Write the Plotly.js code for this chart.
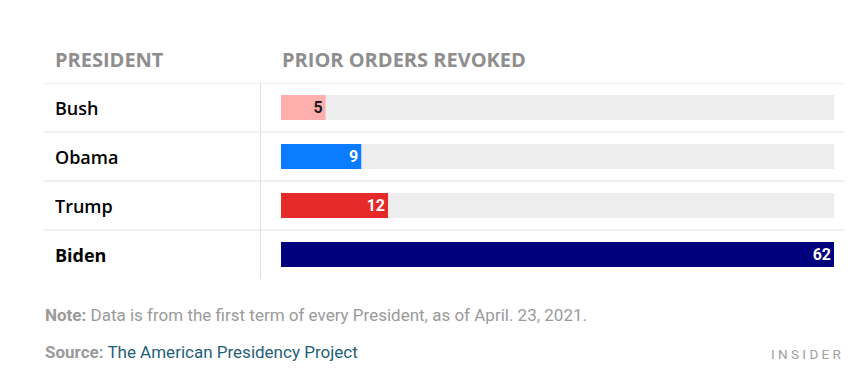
<!DOCTYPE html>
<html><head><meta charset="utf-8">
<script src="https://cdn.plot.ly/plotly-3.0.1.min.js"></script>
<style>html,body{margin:0;padding:0;background:#fff;}#chart{width:857px;height:381px;}</style>
</head><body><div id="chart"></div>
<script>
const presidents = ["Bush", "Obama", "Trump", "Biden"];
const revoked = [5, 9, 12, 62];
const barColors = ["#ffaeae", "#0a7cff", "#e62a2a", "#00007d"];
const labelColors = ["#1a1a1a", "#ffffff", "#ffffff", "#ffffff"];
const maxValue = 62;
const headers = ["PRESIDENT", "PRIOR ORDERS REVOKED"];
const noteLabel = "Note:";
const noteText = "Data is from the first term of every President, as of April. 23, 2021.";
const sourceLabel = "Source:";
const sourceText = "The American Presidency Project";
const brand = "I N S I D E R";

const W = 857, H = 381, L = 281, R = 23, T = 83, B = 102;
const pw = W - L - R, ph = H - T - B;
const px = p => (p - L) / pw;
const py = q => (H - B - q) / ph;
const FONT = "Roboto, sans-serif";
const HFONT = "'Open Sans', Roboto, sans-serif";

const bg = {
  type: "bar", orientation: "h", y: presidents, x: presidents.map(() => maxValue),
  marker: {color: "#ededed"}, hoverinfo: "skip", showlegend: false
};
const main = {
  type: "bar", orientation: "h", y: presidents, x: revoked,
  marker: {color: barColors},
  text: revoked.map(String), textposition: "inside", insidetextanchor: "end", textangle: 0,
  textfont: {family: FONT, size: 16, color: labelColors, weight: 700},
  constraintext: "none", cliponaxis: false, showlegend: false
};

const shapes = [];
for (let i = 0; i < presidents.length; i++) {
  shapes.push({type: "line", xref: "paper", yref: "y", x0: px(44), x1: px(844), y0: i - 0.5, y1: i - 0.5,
    line: {color: "#e2e2e2", width: 1}, layer: "below"});
}
shapes.push({type: "line", xref: "paper", yref: "y", x0: px(260.5), x1: px(260.5), y0: -0.5, y1: presidents.length - 0.5,
  line: {color: "#e2e2e2", width: 1}, layer: "below"});

const annotations = [];
presidents.forEach((p, i) => {
  annotations.push({xref: "paper", yref: "y", x: px(53), y: p, xanchor: "left", yanchor: "middle",
    text: p, showarrow: false,
    font: {family: HFONT, size: 18, color: "#000", weight: i === presidents.length - 1 ? 700 : 600}});
});
annotations.push({xref: "paper", yref: "paper", x: px(53), y: py(59), xanchor: "left", yanchor: "middle",
  text: headers[0], showarrow: false, font: {family: HFONT, size: 20, color: "#8e8e8e", weight: 700}});
annotations.push({xref: "paper", yref: "paper", x: px(280), y: py(59), xanchor: "left", yanchor: "middle",
  text: headers[1], showarrow: false, font: {family: HFONT, size: 20, color: "#8e8e8e", weight: 700}});
annotations.push({xref: "paper", yref: "paper", x: px(43), y: py(315), xanchor: "left", yanchor: "middle",
  text: "<b>" + noteLabel + "</b> " + noteText, showarrow: false,
  font: {family: FONT, size: 17, color: "#9a9a9a"}});
annotations.push({xref: "paper", yref: "paper", x: px(43), y: py(352), xanchor: "left", yanchor: "middle",
  text: "<b>" + sourceLabel + "</b> <span style='color:#1f5f7a'>" + sourceText + "</span>", showarrow: false,
  font: {family: FONT, size: 17, color: "#9a9a9a"}});
annotations.push({xref: "paper", yref: "paper", x: px(844), y: py(354), xanchor: "right", yanchor: "middle",
  text: brand, showarrow: false, font: {family: FONT, size: 13.5, color: "#a0a0a0"}});

const layout = {
  width: W, height: H, margin: {l: L, r: R, t: T, b: B},
  paper_bgcolor: "#fff", plot_bgcolor: "#fff",
  barmode: "overlay", bargap: 0.49,
  xaxis: {range: [0, maxValue], visible: false, fixedrange: true},
  yaxis: {type: "category", autorange: false, range: [presidents.length - 0.5, -0.5], visible: false, fixedrange: true},
  shapes, annotations, showlegend: false
};

Plotly.newPlot("chart", [bg, main], layout, {displayModeBar: false, staticPlot: true});
</script></body></html>
